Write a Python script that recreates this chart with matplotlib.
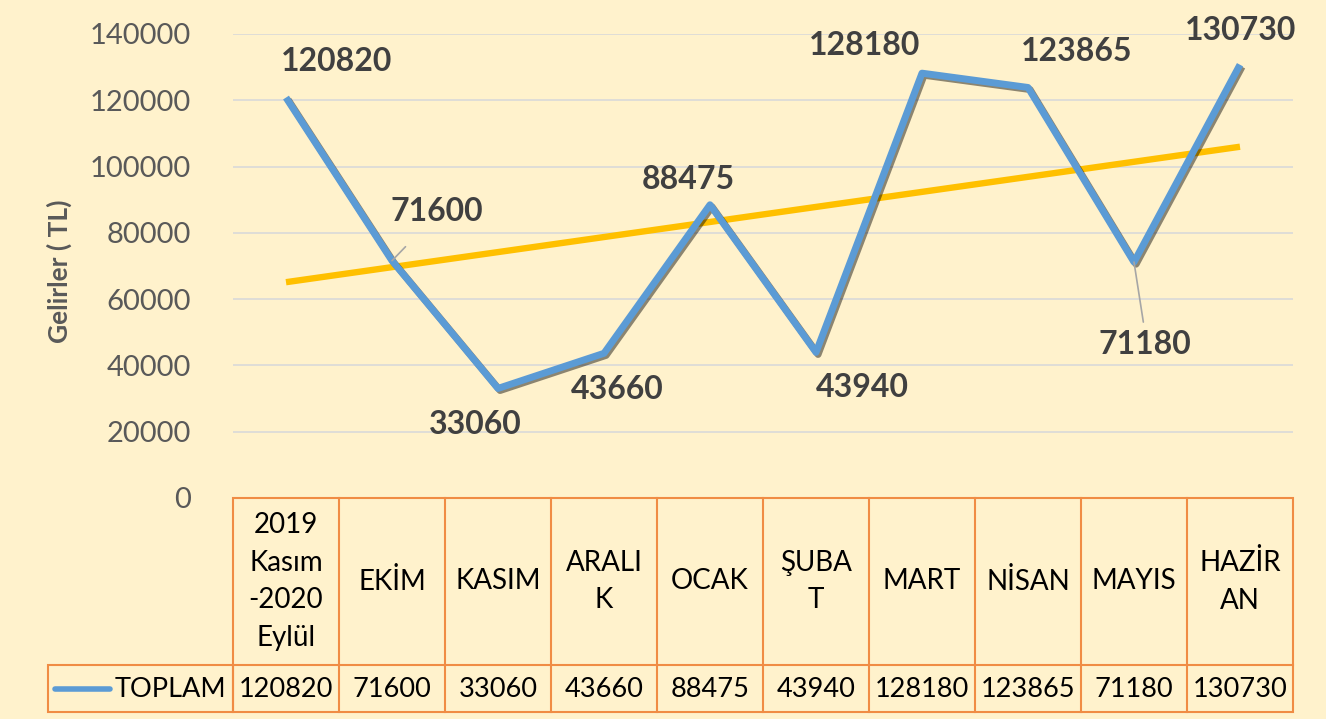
import numpy as np
import matplotlib
matplotlib.use("Agg")
import matplotlib.pyplot as plt
import matplotlib.patheffects as pe
from matplotlib.lines import Line2D
from matplotlib.patches import Rectangle

plt.rcParams['font.family'] = ['Lato', 'DejaVu Sans']

# Monthly income (TL)
months = ["2019\nKasım\n-2020\nEylül", "EKİM", "KASIM", "ARALI\nK", "OCAK",
          "ŞUBA\nT", "MART", "NİSAN", "MAYIS", "HAZİR\nAN"]
toplam = [120820, 71600, 33060, 43660, 88475, 43940, 128180, 123865, 71180, 130730]
series_name = "TOPLAM"
yticks = [0, 20000, 40000, 60000, 80000, 100000, 120000, 140000]

# label offsets in pixels (dx, dy) relative to each point
label_offsets = [(51, 36), (45, 49), (-23, -36), (13, -36), (-22, 25),
                 (46, -35), (-57, 28), (49, 36), (11, -82), (1, 34)]
leader = [False, True, False, False, False, False, False, False, True, False]

BG = "#FFF2CC"
BLUE = "#5B9BD5"
GOLD = "#FFC000"
EDGE = "#F08C44"
W, H = 1326, 719

fig = plt.figure(figsize=(W / 100, H / 100), dpi=100, facecolor=BG)

left, right, top, bottom = 233, 1293, 34, 498
ax = fig.add_axes([left / W, 1 - bottom / H, (right - left) / W, (bottom - top) / H])
ax.set_facecolor(BG)
x = np.arange(len(toplam))
ax.set_xlim(-0.5, len(toplam) - 0.5)
ax.set_ylim(0, 140000)
ax.set_yticks(yticks)
ax.set_yticklabels([str(v) for v in yticks], fontsize=21, color="#595959")
ax.tick_params(axis='y', length=0, pad=30)
ax.set_xticks([])
for s in ax.spines.values():
    s.set_visible(False)
ax.grid(axis='y', color="#D9D9D9", linewidth=1.2)
ax.set_axisbelow(True)

# linear trend line
coef = np.polyfit(x + 1, toplam, 1)
trend = np.polyval(coef, x + 1)
ax.plot(x, trend, color=GOLD, linewidth=4.6, solid_capstyle='butt', zorder=2)

ax.plot(x, toplam, color=BLUE, linewidth=5, solid_capstyle='butt', zorder=3,
        path_effects=[pe.SimpleLineShadow(offset=(1.5, -1.5), shadow_color='black', alpha=0.45),
                      pe.Normal()])

for i, v in enumerate(toplam):
    dx, dy = label_offsets[i]
    ax.annotate(str(v), (i, v), xytext=(dx, dy), textcoords='offset pixels',
                ha='center', va='center', fontsize=23, fontweight='bold',
                color="#404040", zorder=5, annotation_clip=False)
    if leader[i]:
        if dy < 0:
            end = (dx * 0.85, dy + 22)
        else:
            end = (dx * 0.3, dy - 35)
        ax.annotate("", (i, v), xytext=end, textcoords='offset pixels',
                    arrowprops=dict(arrowstyle='-', color="#A6A6A6", lw=1.2,
                                    shrinkA=0, shrinkB=0), zorder=4)

fig.text(59 / W, 1 - 271 / H, "Gelirler ( TL)", rotation=90, ha='center', va='center',
         fontsize=19, fontweight='bold', color="#595959")

# data table under the plot
tleft, tbottom = 48, 712
row_top = 665
tab = fig.add_axes([tleft / W, 1 - tbottom / H, (right - tleft) / W, (tbottom - bottom) / H])
tab.set_xlim(tleft, right)
tab.set_ylim(tbottom, bottom)
tab.axis('off')
tab.patch.set_alpha(0)

colw = (right - left) / len(months)
lw = 1.5
tab.add_patch(Rectangle((left, bottom), right - left, tbottom - bottom,
                        fill=False, edgecolor=EDGE, lw=lw, clip_on=False))
tab.add_patch(Rectangle((tleft, row_top), left - tleft, tbottom - row_top,
                        fill=False, edgecolor=EDGE, lw=lw, clip_on=False))
tab.plot([left, right], [row_top, row_top], color=EDGE, lw=lw, clip_on=False)
for i in range(1, len(months)):
    xc = left + i * colw
    tab.plot([xc, xc], [bottom, tbottom], color=EDGE, lw=lw, clip_on=False)

for i, (m, v) in enumerate(zip(months, toplam)):
    cx = left + (i + 0.5) * colw
    tab.text(cx, (bottom + row_top) / 2, m, ha='center', va='center',
             fontsize=20, color='black', linespacing=1.55)
    tab.text(cx, (row_top + tbottom) / 2 + 1, str(v), ha='center', va='center',
             fontsize=19.5, color='black')

tab.add_line(Line2D([55, 110], [689, 689], color=BLUE, lw=4, solid_capstyle='round'))
tab.text(226, (row_top + tbottom) / 2 + 1, series_name, ha='right', va='center',
         fontsize=19.5, color='black')

fig.savefig("out.png", dpi=100, facecolor=BG)
